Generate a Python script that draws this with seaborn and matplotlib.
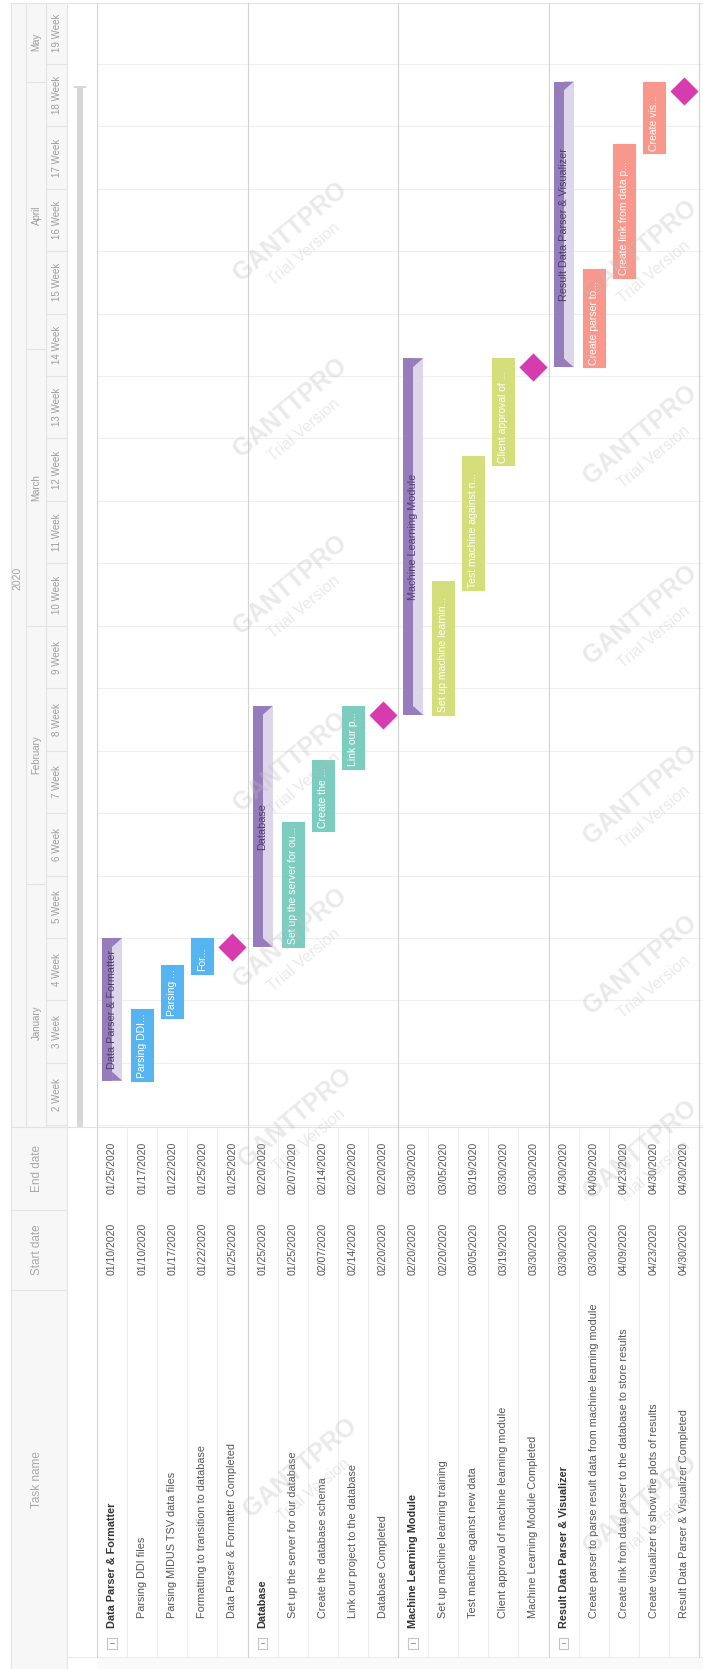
import matplotlib
matplotlib.use("Agg")
import matplotlib.pyplot as plt
import matplotlib.dates as mdates
import numpy as np
import pandas as pd
import seaborn as sns
from matplotlib.patches import Polygon, Rectangle

# ---------------- data ----------------
task_names = [
    "Data Parser & Formatter", "Parsing DDI files", "Parsing MIDUS TSV data files",
    "Formatting to transition to database", "Data Parser & Formatter Completed",
    "Database", "Set up the server for our database", "Create the database schema",
    "Link our project to the database", "Database Completed",
    "Machine Learning Module", "Set up machine learning training", "Test machine against new data",
    "Client approval of machine learning module", "Machine Learning Module Completed",
    "Result Data Parser & Visualizer",
    "Create parser to parse result data from machine learning module",
    "Create link from data parser to the database to store results",
    "Create visualizer to show the plots of results",
    "Result Data Parser & Visualizer Completed",
]
start_dates = ["01/10/2020", "01/10/2020", "01/17/2020", "01/22/2020", "01/25/2020",
               "01/25/2020", "01/25/2020", "02/07/2020", "02/14/2020", "02/20/2020",
               "02/20/2020", "02/20/2020", "03/05/2020", "03/19/2020", "03/30/2020",
               "03/30/2020", "03/30/2020", "04/09/2020", "04/23/2020", "04/30/2020"]
end_dates = ["01/25/2020", "01/17/2020", "01/22/2020", "01/25/2020", "01/25/2020",
             "02/20/2020", "02/07/2020", "02/14/2020", "02/20/2020", "02/20/2020",
             "03/30/2020", "03/05/2020", "03/19/2020", "03/30/2020", "03/30/2020",
             "04/30/2020", "04/09/2020", "04/23/2020", "04/30/2020", "04/30/2020"]
task_kinds = ["group", "task", "task", "task", "milestone"] * 4
group_of_task = [0] * 5 + [1] * 5 + [2] * 5 + [3] * 5
bar_labels = ["Data Parser & Formatter", "Parsing DDI...", "Parsing ...", "For...", "",
              "Database", "Set up the server for ou...", "Create the ...", "Link our p...", "",
              "Machine Learning Module", "Set up machine learnin...", "Test machine against n...",
              "Client approval of ...", "",
              "Result Data Parser & Visualizer", "Create parser to...", "Create link from data p...",
              "Create vis...", ""]
group_colors = ["#56b4f1", "#7dccc0", "#d4df7c", "#f8978b"]
week_numbers = list(range(2, 20))
month_names = ["January", "February", "March", "April", "May"]
year_label = "2020"
header_labels = ["End date", "Start date", "Task name"]

# ---------------- style ----------------
sns.set_theme(style="white")
plt.rcParams["font.family"] = ["Liberation Sans", "DejaVu Sans"]

W, H, DPI = 703, 1669, 100
fig = plt.figure(figsize=(W / DPI, H / DPI), dpi=DPI)
fig.patch.set_facecolor("white")


def rect(x0, y0, x1, y1):
    return [x0 / W, 1 - y1 / H, (x1 - x0) / W, (y1 - y0) / H]


df = pd.DataFrame({
    "name": task_names,
    "start": pd.to_datetime(start_dates, format="%m/%d/%Y"),
    "end": pd.to_datetime(end_dates, format="%m/%d/%Y"),
    "kind": task_kinds,
    "group": group_of_task,
    "label": bar_labels,
})
df["row"] = np.arange(len(df)) + 0.5
df["s"] = mdates.date2num(df["start"])
df["e"] = mdates.date2num(df["end"] + pd.Timedelta(days=1))

# layout (pixels)
ROW0, ROWPX = 97, 30.1
CH_TOP, CH_BOT = 3, 1127
PXDAY = 8.92
origin = mdates.date2num(pd.Timestamp("2020-01-05"))
ORIGIN_PX = 1125.3
ylo = origin - (CH_BOT - ORIGIN_PX) / PXDAY
yhi = origin + (ORIGIN_PX - CH_TOP) / PXDAY
xmax = (W - ROW0) / ROWPX
DAY_PER_PX = 1 / PXDAY

week_starts = [origin + (n - 2) * 7 for n in week_numbers] + [origin + (week_numbers[-1] - 1) * 7]
month_starts = [mdates.date2num(pd.Timestamp(2020, m, 1)) for m in range(1, 7)]

# ---------------- background axes ----------------
bg = fig.add_axes([0, 0, 1, 1])
bg.set_xlim(0, W)
bg.set_ylim(H, 0)
bg.axis("off")
bg.add_patch(Rectangle((11, CH_TOP), 56, H - CH_TOP, facecolor="#f7f7f7", edgecolor="none"))
for x in (11, 67):
    bg.plot([x, x], [CH_TOP, H], color="#e4e4e4", lw=0.8)
bg.plot([11, W], [CH_TOP, CH_TOP], color="#e4e4e4", lw=0.8)
bg.plot([11, W], [CH_BOT, CH_BOT], color="#e2e2e2", lw=0.8)
for y in (1210, 1290):
    bg.plot([11, 67], [y, y], color="#e4e4e4", lw=0.8)
bg.plot([67, W], [1657, 1657], color="#ececec", lw=0.8)
bg.add_patch(Rectangle((97, 1657), W - 97, 12, facecolor="#fafafa", edgecolor="none"))
# timeline scrollbar
bg.add_patch(Rectangle((77, 86), 6, CH_BOT - 86, facecolor="#d7d7d7", edgecolor="none"))
bg.add_patch(Rectangle((74, 86), 12, 2.5, facecolor="#d7d7d7", edgecolor="none"))

# ---------------- header (time scale) ----------------
hd = fig.add_axes(rect(11, CH_TOP, 67, CH_BOT))
hd.patch.set_alpha(0)
hd.set_xlim(11, 67)
hd.set_ylim(ylo, yhi)
hd.axis("off")
hd.axvline(26, color="#e4e4e4", lw=0.8)
hd.axvline(46, color="#e4e4e4", lw=0.8)
hd.hlines(week_starts, 46, 67, color="#e4e4e4", lw=0.8)
hd.hlines(month_starts, 26, 46, color="#e4e4e4", lw=0.8)
for n, ws in zip(week_numbers, week_starts):
    hd.text(57, ws + 3.5, f"{n} Week", rotation=90, ha="center", va="center",
            fontsize=7, color="#9d9d9d", clip_on=True)
for i, mname in enumerate(month_names):
    lo, hi = month_starts[i], month_starts[i + 1]
    if hi > yhi:
        hi = yhi
    hd.text(36.5, (lo + hi) / 2, mname, rotation=90, ha="center", va="center",
            fontsize=7, color="#9d9d9d", clip_on=True)
hd.text(17.5, origin + (ORIGIN_PX - 578) / PXDAY, year_label, rotation=90, ha="center",
        va="center", fontsize=7.5, color="#a5a5a5")

# ---------------- chart ----------------
ax = fig.add_axes(rect(ROW0, CH_TOP, W, CH_BOT))
ax.patch.set_alpha(0)
for w in week_starts:
    ax.axhline(w, color="#efefef", lw=0.8, zorder=0)
for g in range(5):
    ax.axvline(g * 5, color="#d2d2d2", lw=0.8, zorder=0)

tasks = df[df["kind"] == "task"]
ax.bar(tasks["row"], tasks["e"] - tasks["s"], bottom=tasks["s"], width=22 / ROWPX,
       color=[group_colors[g] for g in tasks["group"]], edgecolor=[group_colors[g] for g in tasks["group"]],
       linewidth=0.8, joinstyle="round", zorder=3)
for _, r in tasks.iterrows():
    ax.text(r["row"], r["s"] + 2.5 * DAY_PER_PX, r["label"], rotation=90, ha="center", va="bottom",
            fontsize=7.5, color="white", zorder=6)

groups = df[df["kind"] == "group"]
hw = 10 / ROWPX
dark, light = "#977cbb", "#ddd5ea"
ax.bar(groups["row"] - hw / 2, groups["e"] - groups["s"], bottom=groups["s"], width=hw,
       color=dark, linewidth=0, zorder=3)
ax.bar(groups["row"] + hw / 2, groups["e"] - groups["s"], bottom=groups["s"], width=hw,
       color=light, linewidth=0, zorder=3)
tri = 9 * DAY_PER_PX
for _, r in groups.iterrows():
    c, s, e = r["row"], r["s"], r["e"]
    ax.add_patch(Polygon([(c, e), (c + hw, e), (c, e - tri)], closed=True, color=dark, lw=0, zorder=4))
    ax.add_patch(Polygon([(c, s), (c + hw, s), (c, s + tri)], closed=True, color=dark, lw=0, zorder=4))
    ax.text(c, (s + e) / 2, r["label"], rotation=90, ha="center", va="center",
            fontsize=7.8, color="#4d3d6e", zorder=6)

ms = df[df["kind"] == "milestone"]
sns.scatterplot(data=ms, x="row", y="s", marker="D", s=205, color="#d63cb0",
                linewidth=0, legend=False, ax=ax, zorder=5)
ax.set_xlim(0, xmax)
ax.set_ylim(ylo, yhi)
ax.set_xlabel("")
ax.set_ylabel("")
ax.axis("off")

# ---------------- table ----------------
tb = fig.add_axes(rect(ROW0, CH_BOT, W, H))
tb.patch.set_alpha(0)
tb.set_xlim(0, xmax)
tb.set_ylim(H, CH_BOT)
tb.axis("off")
for i in range(len(df) + 1):
    col = "#d2d2d2" if i % 5 == 0 else "#ededed"
    tb.plot([i, i], [CH_BOT, 1657], color=col, lw=0.8)
for _, r in df.iterrows():
    if r["kind"] == "group":
        tb.text(r["row"], 1628, r["name"], rotation=90, ha="center", va="bottom",
                fontsize=7.8, color="#333333", fontweight="bold")
        bw = 9.5 / ROWPX
        tb.add_patch(Rectangle((r["row"] - bw / 2, 1638), bw, 10.5, facecolor="white",
                               edgecolor="#c4c4c4", lw=0.8))
        tb.plot([r["row"] - 0.06, r["row"] + 0.06], [1643.2, 1643.2], color="#9a9a9a", lw=0.8)
    else:
        tb.text(r["row"], 1618, r["name"], rotation=90, ha="center", va="bottom",
                fontsize=7.8, color="#555555")
    tb.text(r["row"], 1249, r["start"].strftime("%m/%d/%Y"), rotation=90, ha="center",
            va="center", fontsize=7.5, color="#555555")
    tb.text(r["row"], 1168, r["end"].strftime("%m/%d/%Y"), rotation=90, ha="center",
            va="center", fontsize=7.5, color="#555555")

th = fig.add_axes(rect(11, CH_BOT, 67, H))
th.patch.set_alpha(0)
th.set_xlim(11, 67)
th.set_ylim(H, CH_BOT)
th.axis("off")
for lab, yc in zip(header_labels, [1168, 1250, 1480]):
    th.text(37, yc, lab, rotation=90, ha="center", va="center", fontsize=8.5, color="#a9a9a9")

# ---------------- watermark overlay ----------------
ov = fig.add_axes([0, 0, 1, 1])
ov.patch.set_alpha(0)
ov.set_xlim(0, W)
ov.set_ylim(H, 0)
ov.axis("off")
wm_pos = [(290, 232), (290, 408), (290, 585), (290, 762), (290, 938), (295, 1118), (300, 1468),
          (640, 250), (640, 435), (640, 615), (640, 795), (640, 965), (640, 1150), (640, 1505)]
for (x, y) in wm_pos:
    ov.text(x, y, "GANTTPRO", rotation=40, ha="center", va="center", fontsize=18,
            fontweight="bold", color="#bdbdbd", alpha=0.32, zorder=10)
    ov.text(x + 14, y + 22, "Trial Version", rotation=40, ha="center", va="center", fontsize=11.5,
            color="#bdbdbd", alpha=0.32, zorder=10)

fig.savefig("out.png", dpi=DPI, facecolor="white")
